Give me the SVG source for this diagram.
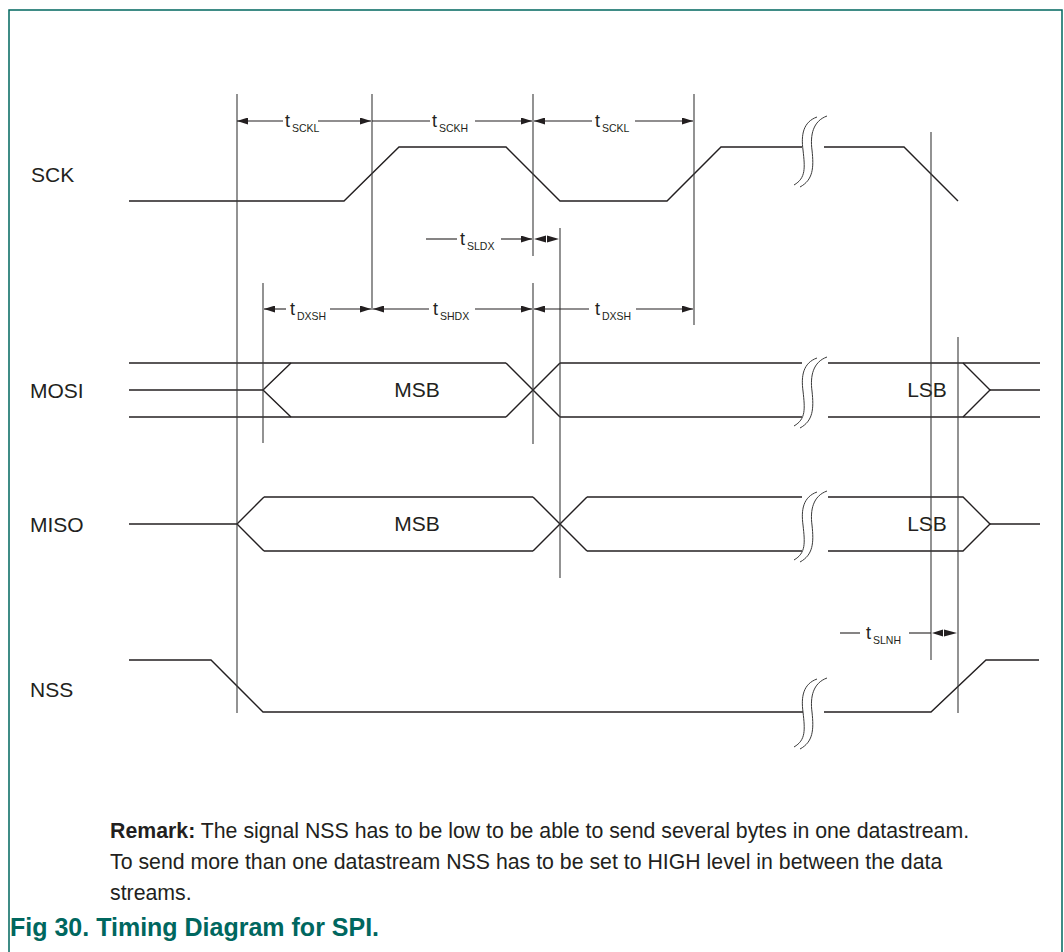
<svg xmlns="http://www.w3.org/2000/svg" width="1064" height="952" viewBox="0 0 1064 952">
<style>
.frame{stroke:#00675f;stroke-width:1.5;fill:none}
.wave{stroke:#231f20;stroke-width:1.4;fill:none;stroke-linejoin:miter}
.ref{stroke:#3a3a3a;stroke-width:1.1;fill:none}
.dim{stroke:#231f20;stroke-width:1.1;fill:none}
.brk{stroke:#3a3a3a;stroke-width:1;fill:none}
.ah{fill:#231f20}
.lbl{font-family:"Liberation Sans",Arial,sans-serif;font-size:21px;fill:#231f20}
.t{font-family:"Liberation Sans",Arial,sans-serif;font-size:18px;fill:#231f20}
.sub{font-family:"Liberation Sans",Arial,sans-serif;font-size:10.5px;fill:#231f20}
.rem{font-family:"Liberation Sans",Arial,sans-serif;font-size:21.3px;fill:#231f20}
.fig{font-family:"Liberation Sans",Arial,sans-serif;font-size:25px;font-weight:bold;fill:#00675f}
</style>
<defs>
<marker id="arr" markerUnits="userSpaceOnUse" markerWidth="11" markerHeight="7" refX="11" refY="3.5" orient="auto-start-reverse">
<path d="M0,0 L11,3.5 L0,7 z" fill="#231f20"/>
</marker>
<g id="brkshape">
<path class="brk" d="M817,117 C803,122 801,135 803,150 C805,168 806,178 794,185"/>
<path class="brk" d="M827,116 C813,121 810,135 812,150 C814,168 813,180 800,187"/>
</g>
</defs>

<g id="frame">
<path class="frame" d="M9,952 L9,10 L1062,10 L1062,952"/>
</g>

<g id="labels">
<text class="lbl" x="31" y="182">SCK</text>
<text class="lbl" x="30" y="398">MOSI</text>
<text class="lbl" x="30" y="532">MISO</text>
<text class="lbl" x="30" y="697">NSS</text>
</g>

<g id="sck">
<polyline class="wave" points="129,201 344,201 399,147 506,147 560,201 667,201 721,147 802,147"/>
<polyline class="wave" points="824,147 904,147 958,201"/>
<use href="#brkshape"/>
</g>

<g id="mosi">
<line class="wave" x1="129" y1="363" x2="506" y2="363"/>
<line class="wave" x1="129" y1="417" x2="506" y2="417"/>
<line class="wave" x1="129" y1="390" x2="263" y2="390"/>
<polyline class="wave" points="291,363 263,390 291,417"/>
<line class="wave" x1="506" y1="363" x2="560" y2="417"/>
<line class="wave" x1="506" y1="417" x2="560" y2="363"/>
<line class="wave" x1="560" y1="363" x2="802" y2="363"/>
<line class="wave" x1="560" y1="417" x2="802" y2="417"/>
<line class="wave" x1="828" y1="363" x2="1040" y2="363"/>
<line class="wave" x1="828" y1="417" x2="1040" y2="417"/>
<polyline class="wave" points="963,363 990,390 963,417"/>
<line class="wave" x1="990" y1="390" x2="1040" y2="390"/>
<use href="#brkshape" transform="translate(0,241)"/>
<text class="lbl" x="417" y="397" text-anchor="middle">MSB</text>
<text class="lbl" x="927" y="397" text-anchor="middle">LSB</text>
</g>

<g id="miso">
<line class="wave" x1="129" y1="524" x2="237" y2="524"/>
<polyline class="wave" points="264,497 237,524 264,551"/>
<line class="wave" x1="264" y1="497" x2="533" y2="497"/>
<line class="wave" x1="264" y1="551" x2="533" y2="551"/>
<line class="wave" x1="533" y1="497" x2="587" y2="551"/>
<line class="wave" x1="533" y1="551" x2="587" y2="497"/>
<line class="wave" x1="587" y1="497" x2="802" y2="497"/>
<line class="wave" x1="587" y1="551" x2="802" y2="551"/>
<polyline class="wave" points="828,497 963,497 990,524 963,551 828,551"/>
<line class="wave" x1="990" y1="524" x2="1040" y2="524"/>
<use href="#brkshape" transform="translate(0,375)"/>
<text class="lbl" x="417" y="531" text-anchor="middle">MSB</text>
<text class="lbl" x="927" y="531" text-anchor="middle">LSB</text>
</g>

<g id="nss">
<polyline class="wave" points="129,660 211,660 263,712 803,712"/>
<polyline class="wave" points="824,712 931,712 986,660 1039,660"/>
<use href="#brkshape" transform="translate(0,562)"/>
</g>

<g id="connectors">
<line class="ref" x1="237" y1="94" x2="237" y2="713"/>
<line class="ref" x1="372" y1="94" x2="372" y2="310"/>
<line class="ref" x1="533" y1="94" x2="533" y2="256"/>
<line class="ref" x1="533" y1="283" x2="533" y2="444"/>
<line class="ref" x1="694" y1="94" x2="694" y2="325"/>
<line class="ref" x1="263" y1="283" x2="263" y2="443"/>
<line class="ref" x1="560" y1="228" x2="560" y2="578"/>
<line class="ref" x1="931" y1="132" x2="931" y2="660"/>
<line class="ref" x1="958" y1="337" x2="958" y2="713"/>

<line class="dim" x1="283" y1="121" x2="237" y2="121" marker-end="url(#arr)"/>
<line class="dim" x1="318" y1="121" x2="371" y2="121" marker-end="url(#arr)"/>
<line class="dim" x1="372" y1="121" x2="430" y2="121"/>
<line class="dim" x1="475" y1="121" x2="532" y2="121" marker-end="url(#arr)"/>
<line class="dim" x1="592" y1="121" x2="534" y2="121" marker-end="url(#arr)"/>
<line class="dim" x1="635" y1="121" x2="693" y2="121" marker-end="url(#arr)"/>

<line class="dim" x1="426" y1="239" x2="457" y2="239"/>
<line class="dim" x1="501" y1="239" x2="532" y2="239" marker-end="url(#arr)"/>
<path class="ah" d="M534,239 L546,235.5 L546,242.5 z M559,239 L547,235.5 L547,242.5 z"/>

<line class="dim" x1="286" y1="309" x2="264" y2="309" marker-end="url(#arr)"/>
<line class="dim" x1="330" y1="309" x2="371" y2="309" marker-end="url(#arr)"/>
<line class="dim" x1="429" y1="309" x2="373" y2="309" marker-end="url(#arr)"/>
<line class="dim" x1="475" y1="309" x2="532" y2="309" marker-end="url(#arr)"/>
<line class="dim" x1="589" y1="309" x2="534" y2="309" marker-end="url(#arr)"/>
<line class="dim" x1="636" y1="309" x2="693" y2="309" marker-end="url(#arr)"/>

<line class="dim" x1="840" y1="633" x2="860" y2="633"/>
<line class="dim" x1="909" y1="633" x2="931" y2="633"/>
<path class="ah" d="M932,633 L943,629.5 L943,636.5 z M957,633 L944,629.5 L944,636.5 z"/>
</g>

<g id="timing-labels">
<text class="t" x="285" y="127">t</text><text class="sub" x="292" y="132">SCKL</text>
<text class="t" x="432" y="127">t</text><text class="sub" x="439" y="132">SCKH</text>
<text class="t" x="595" y="127">t</text><text class="sub" x="602" y="132">SCKL</text>
<text class="t" x="460" y="245">t</text><text class="sub" x="467" y="250">SLDX</text>
<text class="t" x="290" y="315">t</text><text class="sub" x="297" y="320">DXSH</text>
<text class="t" x="433" y="315">t</text><text class="sub" x="440" y="320">SHDX</text>
<text class="t" x="595" y="315">t</text><text class="sub" x="602" y="320">DXSH</text>
<text class="t" x="866" y="639">t</text><text class="sub" x="873" y="644">SLNH</text>
</g>

<g id="remark">
<text class="rem" x="110" y="838"><tspan font-weight="bold">Remark:</tspan> The signal NSS has to be low to be able to send several bytes in one datastream.</text>
<text class="rem" x="110" y="869">To send more than one datastream NSS has to be set to HIGH level in between the data</text>
<text class="rem" x="110" y="900">streams.</text>
<text class="fig" x="10" y="936">Fig 30. Timing Diagram for SPI.</text>
</g>
</svg>
